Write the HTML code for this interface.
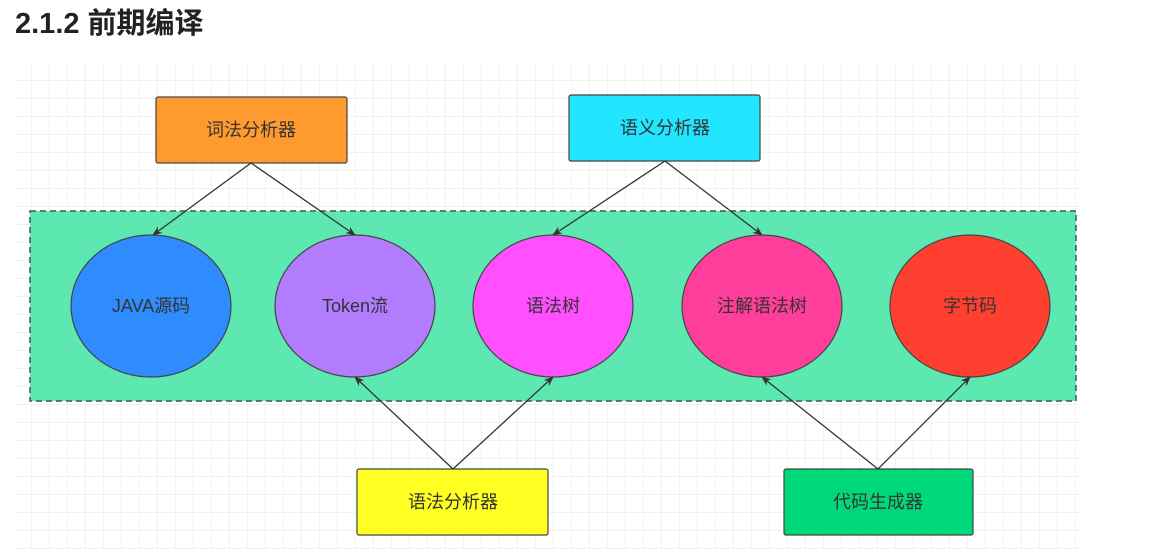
<!DOCTYPE html>
<html><head><meta charset="utf-8"><style>
body{margin:0;background:#fff;width:1159px;height:549px;overflow:hidden;font-family:"Liberation Sans","Noto Sans CJK SC",sans-serif}
h1{position:absolute;left:15px;top:4px;margin:0;font-size:29px;font-weight:bold;color:#222;line-height:40px}
</style></head><body>
<h1>2.1.2 前期编译</h1>
<svg width="1159" height="549" style="position:absolute;left:0;top:0">
<defs>
<pattern id="g" x="14" y="63" width="18" height="18" patternUnits="userSpaceOnUse"><path d="M18 0V18H0" fill="none" stroke="#e6e6e6" stroke-width="1"/></pattern>
<marker id="a" markerWidth="10" markerHeight="10" refX="9" refY="5" orient="auto" markerUnits="userSpaceOnUse"><path d="M0,1 L10,5 L0,9 L3,5z" fill="#333"/></marker>
</defs>
<rect x="14" y="63" width="1068" height="486" fill="url(#g)"/>
<rect x="30" y="211" width="1046" height="190" fill="#5ce8b0" stroke="#3a5a4a" stroke-width="1.5" stroke-dasharray="6,4"/>
<g stroke="#444" stroke-width="1.2">
<ellipse cx="151" cy="306" rx="80" ry="71" fill="#2f8cff"/>
<ellipse cx="355" cy="306" rx="80" ry="71" fill="#b27cff"/>
<ellipse cx="553" cy="306" rx="80" ry="71" fill="#ff4fff"/>
<ellipse cx="762" cy="306" rx="80" ry="71" fill="#ff3d9a"/>
<ellipse cx="970" cy="306" rx="80" ry="71" fill="#ff3f2f"/>
<rect x="156" y="97" width="191" height="66" rx="2" fill="#ff9a2e"/>
<rect x="569" y="95" width="191" height="66" rx="2" fill="#22e5ff"/>
<rect x="357" y="469" width="191" height="66" rx="2" fill="#ffff22"/>
<rect x="784" y="469" width="189" height="66" rx="2" fill="#00d97a"/>
</g>
<g stroke="#333" stroke-width="1.3" marker-end="url(#a)">
<line x1="251" y1="163" x2="153" y2="235"/>
<line x1="251" y1="163" x2="355" y2="235"/>
<line x1="665" y1="161" x2="553" y2="235"/>
<line x1="665" y1="161" x2="762" y2="235"/>
<line x1="453" y1="469" x2="355" y2="377"/>
<line x1="453" y1="469" x2="553" y2="377"/>
<line x1="878" y1="469" x2="762" y2="377"/>
<line x1="878" y1="469" x2="970" y2="377"/>
</g>
<g font-family="Liberation Sans,Noto Sans CJK SC,sans-serif" font-size="18" fill="#333" text-anchor="middle" dominant-baseline="central">
<text x="251" y="130">词法分析器</text>
<text x="665" y="128">语义分析器</text>
<text x="453" y="502">语法分析器</text>
<text x="878" y="502">代码生成器</text>
<text x="151" y="306">JAVA源码</text>
<text x="355" y="306">Token流</text>
<text x="553" y="306">语法树</text>
<text x="762" y="306">注解语法树</text>
<text x="970" y="306">字节码</text>
</g>
</svg>
</body></html>
